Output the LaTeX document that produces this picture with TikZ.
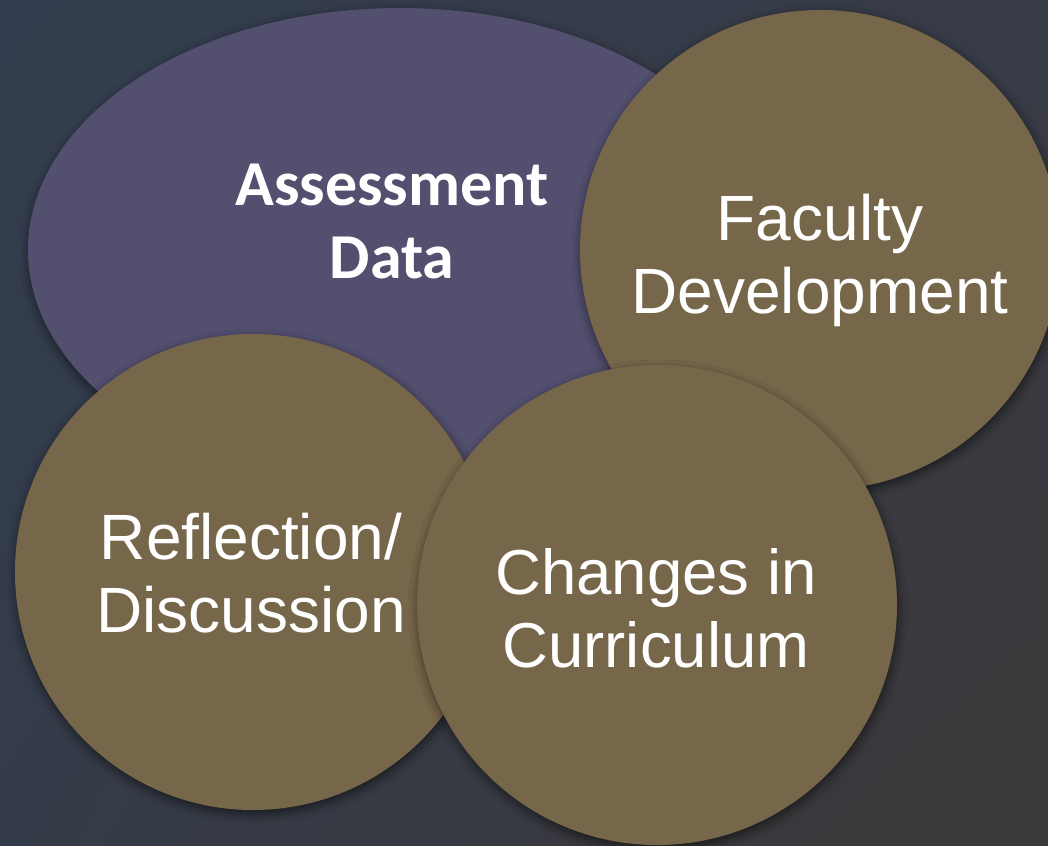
\documentclass[tikz,border=0pt]{standalone}
\usepackage{fontspec}
\setmainfont{Liberation Sans}
\newfontfamily\headfont{Carlito}
\usetikzlibrary{shadows.blur,shadings}
\definecolor{bgtl}{HTML}{323D4F}
\definecolor{bgtr}{HTML}{373B46}
\definecolor{bgbl}{HTML}{343B48}
\definecolor{bgbr}{HTML}{3B3839}
\definecolor{plum}{HTML}{534F6F}
\definecolor{khaki}{HTML}{77674A}
\tikzset{
  blob/.style={draw=none, fill=#1,
    blur shadow={shadow xshift=1pt, shadow yshift=-4pt,
                 shadow blur radius=9pt, shadow opacity=55}},
  label/.style={text=white, align=center, inner sep=0pt,
                font=\fontsize{64}{73}\selectfont},
  headlabel/.style={label, font=\headfont\bfseries\fontsize{64}{73}\selectfont}
}
\begin{document}
\begin{tikzpicture}[x=1pt, y=-1pt]
  \useasboundingbox (0,0) rectangle (1048,845);
  % backdrop
  \shade[upper left=bgtl, upper right=bgtr, lower left=bgbl, lower right=bgbr]
    (0,0) rectangle (1048,845);
  % overlapping shapes, back to front
  \path[blob=plum]  (400,250) ellipse [x radius=372, y radius=242];
  \path[blob=khaki] (820,250) circle [radius=240];
  \path[blob=khaki] (253,572) circle [radius=238];
  \path[blob=khaki] (657,605) circle [radius=240];
  % labels
  \node[headlabel] (assess)  at (392,221) {Assessment\\Data};
  \node[label]     (faculty) at (820,260) {Faculty\\Development};
  \node[label]     (reflect) at (251,573) {Reflection/\\Discussion};
  \node[label, font=\fontsize{63.5}{73}\selectfont] (changes) at (656,608) {Changes in\\Curriculum};
\end{tikzpicture}
\end{document}
